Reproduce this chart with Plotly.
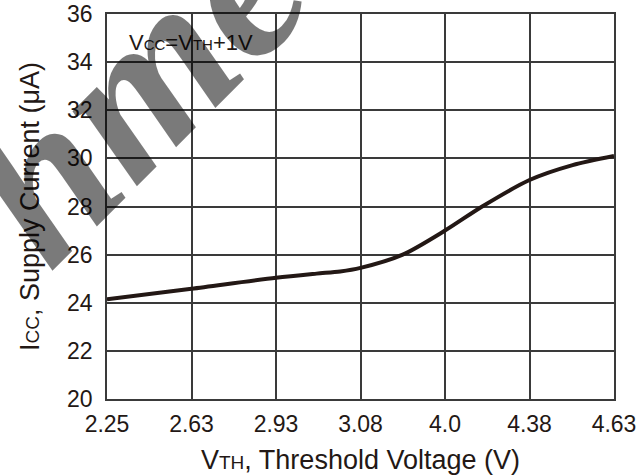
import plotly.graph_objects as go

# tick labels (evenly spaced categories on the x axis)
x_labels = ["2.25", "2.63", "2.93", "3.08", "4.0", "4.38", "4.63"]
y_ticks = [20, 22, 24, 26, 28, 30, 32, 34, 36]

# curve samples: position along the tick index axis, supply current (uA)
curve_pos = [0, 1, 2, 2.48, 2.76, 3, 3.5, 4, 4.44, 5, 5.51, 6]
curve_icc = [24.14, 24.58, 25.04, 25.21, 25.30, 25.45, 26.0, 27.0, 28.0, 29.1, 29.72, 30.1]

INK = "#231815"
GRID = "#3a3a3a"
FONT = "Liberation Sans, Arial, sans-serif"

W, H = 641, 475
L, R, T, B = 107, 27, 14, 76

fig = go.Figure()
fig.add_trace(go.Scatter(
    x=curve_pos, y=curve_icc, mode="lines",
    line=dict(color=INK, width=4, shape="spline", smoothing=0.8),
    showlegend=False, hoverinfo="skip",
))

fig.update_layout(
    width=W, height=H,
    margin=dict(l=L, r=R, t=T, b=B, pad=0, autoexpand=False),
    paper_bgcolor="white", plot_bgcolor="white",
    font=dict(family=FONT, color=INK),
    xaxis=dict(
        range=[0, 6], tickmode="array", tickvals=list(range(len(x_labels))), ticktext=x_labels,
        showgrid=True, gridcolor=GRID, gridwidth=1.5,
        showline=True, linecolor=GRID, linewidth=1.5, mirror=True,
        ticks="", ticklabelstandoff=4, tickfont=dict(size=23, color=INK),
        zeroline=False, automargin=False,
        title=dict(text="V<span style='font-size:19px'>TH</span>, Threshold Voltage (V)",
                   font=dict(size=27, color=INK), standoff=14),
    ),
    yaxis=dict(
        range=[20, 36], tickmode="array", tickvals=y_ticks,
        showgrid=True, gridcolor=GRID, gridwidth=1.5,
        showline=True, linecolor=GRID, linewidth=1.5, mirror=True,
        ticks="", ticklabelstandoff=8, tickfont=dict(size=23, color=INK),
        zeroline=False, automargin=False,
        title=dict(text="I<span style='font-size:19px'>CC</span>, Supply Current (μA)",
                   font=dict(size=27, color=INK), standoff=20),
    ),
)

pw = W - L - R
ph = H - T - B

def px2paper(px, py):
    return (px - L) / pw, (H - B - py) / ph

ax, ay = px2paper(127, 42)
fig.add_annotation(
    x=ax, y=ay, xref="paper", yref="paper", xanchor="left", yanchor="middle",
    text="V<span style='font-size:15px'>CC</span>=V<span style='font-size:15px'>TH</span>+1V",
    showarrow=False, font=dict(size=22, color=INK, family=FONT),
)

# watermark
wx, wy = px2paper(152, 68)
fig.add_annotation(
    x=wx, y=wy, xref="paper", yref="paper", xanchor="center", yanchor="middle",
    text="hme.", textangle=-45, showarrow=False,
    font=dict(size=215, color="rgba(0,0,0,0.52)", family="Liberation Serif, serif",
              style="italic", weight="bold"),
)

fig.write_html("out.html")
